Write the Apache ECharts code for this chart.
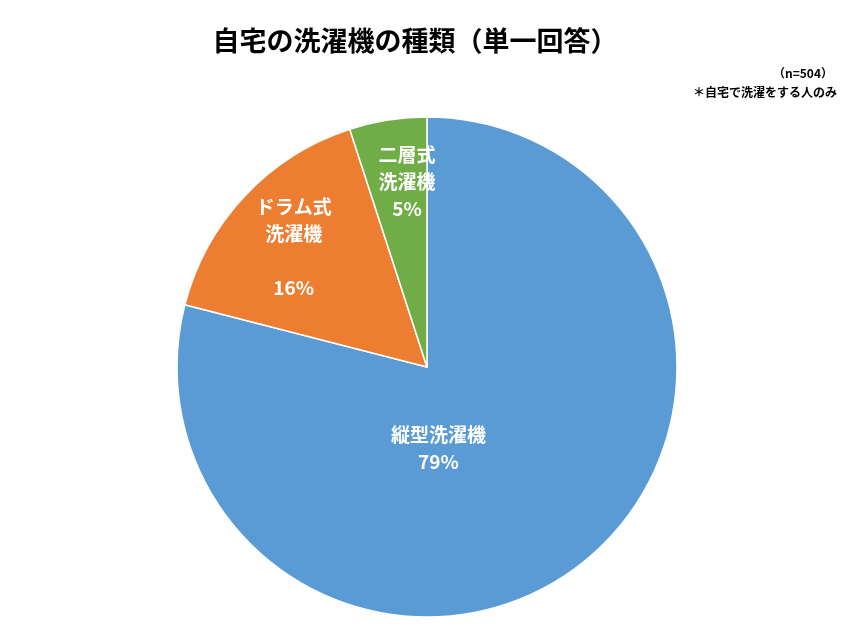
<!DOCTYPE html>
<html><head><meta charset="utf-8">
<script src="https://cdn.jsdelivr.net/npm/echarts@6/dist/echarts.min.js"></script>
<style>html,body{margin:0;padding:0;background:#fff}#c{width:853px;height:640px}</style>
</head><body><div id="c"></div>
<script>
const categories = ['縦型洗濯機', 'ドラム式洗濯機', '二層式洗濯機'];
const values = [79, 16, 5];
const labelTexts = ['縦型洗濯機\n79%', 'ドラム式\n洗濯機\n\n16%', '二層式\n洗濯機\n5%'];
const colors = ['#5b9bd5', '#ed7d31', '#70ad47'];
const offsets = [[-67, -20], [-40, -32], [0, -59]];
const chart = echarts.init(document.getElementById('c'));
chart.setOption({
  title: {
    text: '自宅の洗濯機の種類（単一回答）', left: 410, top: 22, textAlign: 'center',
    textStyle: {fontFamily: 'Noto Sans CJK JP', fontSize: 27, fontWeight: 'bold', color: '#000'}
  },
  graphic: [
    {type: 'text', right: 20, top: 67, style: {text: '（n=504）', font: 'bold 12px "Noto Sans CJK JP"', fill: '#000'}},
    {type: 'text', right: 16, top: 86, style: {text: '＊自宅で洗濯をする人のみ', font: 'bold 12px "Noto Sans CJK JP"', fill: '#000'}}
  ],
  series: [{
    type: 'pie', center: [427, 367], radius: 250, startAngle: 90, clockwise: true,
    animation: false, silent: true,
    itemStyle: {borderColor: '#fff', borderWidth: 1.5},
    label: {position: 'inside', color: '#fff', fontSize: 19, fontWeight: 'bold',
      fontFamily: 'Noto Sans CJK JP', lineHeight: 27},
    data: categories.map((c, i) => ({
      name: c, value: values[i], itemStyle: {color: colors[i]},
      label: {formatter: labelTexts[i], offset: offsets[i]}
    }))
  }]
});
</script></body></html>
